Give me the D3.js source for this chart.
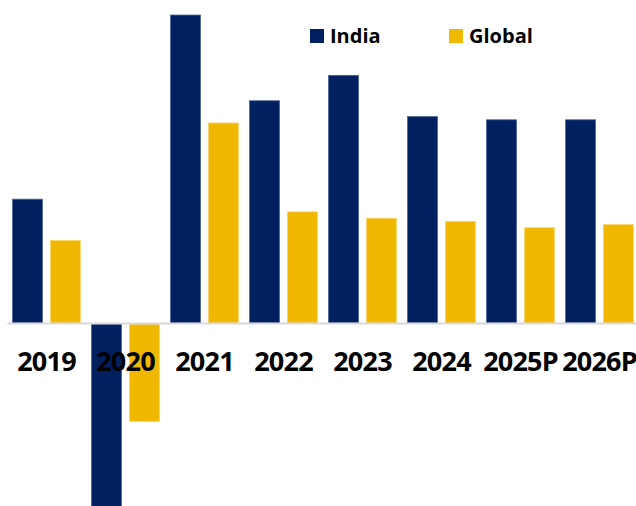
<!DOCTYPE html>
<html>
<head>
<meta charset="utf-8">
<script src="https://cdn.jsdelivr.net/npm/d3@7"></script>
<style>
  body { margin: 0; background: #fff; }
  svg { display: block; font-family: "Open Sans", sans-serif; }
</style>
</head>
<body>
<div id="CHART"></div>
<script>
// data (GDP growth, %)
var aYears = ["2019", "2020", "2021", "2022", "2023", "2024", "2025P", "2026P"];
var aSeries = ["India", "Global"];
var aIndia = [3.9, -5.8, 9.7, 7.0, 7.8, 6.5, 6.4, 6.4];
var aGlobal = [2.6, -3.1, 6.3, 3.5, 3.3, 3.2, 3.0, 3.1];

var oColors = { India: "#002060", Global: "#F0B800" };
var oStroke = { India: "#4d6699", Global: "#f7d66a" };

var iWidth = 636;
var iHeight = 506;

var svg = d3.select("#CHART").append("svg")
	.attr("width", iWidth)
	.attr("height", iHeight);

var xOuter = d3.scaleBand()
	.domain(aYears)
	.range([7, 639])
	.paddingInner(0.14)
	.paddingOuter(0.07);

var xInner = d3.scaleBand()
	.domain(aSeries)
	.range([0, xOuter.bandwidth()])
	.paddingInner(0.21);

var yAxes = d3.scaleLinear()
	.domain([-6, 10])
	.range([513.5, 5.5]);

var data = aYears.map(function(sYear, i) {
	return { year: sYear, India: aIndia[i], Global: aGlobal[i] };
});

var myGroups = svg.selectAll(".grp")
	.data(data)
	.enter().append("g")
		.attr("class", "grp")
		.attr("transform", function(d) { return "translate(" + xOuter(d.year) + ",0)"; });

myGroups.selectAll("rect")
	.data(function(d) { return aSeries.map(function(s) { return { key: s, value: d[s] }; }); })
	.enter().append("rect")
		.attr("x", function(d) { return xInner(d.key); })
		.attr("y", function(d) { return d.value >= 0 ? yAxes(d.value) : yAxes(0) + 1; })
		.attr("width", xInner.bandwidth())
		.attr("height", function(d) { return Math.abs(yAxes(d.value) - yAxes(0)) - (d.value >= 0 ? 0 : 1); })
		.attr("fill", function(d) { return oColors[d.key]; })
		.attr("stroke", function(d) { return oStroke[d.key]; })
		.attr("stroke-width", 0.8);

// category axis on the zero line
var gAxis = svg.append("g")
	.attr("transform", "translate(0," + yAxes(0) + ")")
	.call(d3.axisBottom(xOuter).tickSize(0).tickSizeOuter(0));

gAxis.select(".domain")
	.attr("stroke", "#d9d9d9")
	.attr("stroke-width", 2);

gAxis.selectAll("text")
	.attr("y", 48)
	.attr("dy", 0)
	.attr("fill", "#000")
	.style("font-family", "'Open Sans', sans-serif")
	.style("font-size", "27px")
	.style("font-weight", "bold")
	.style("letter-spacing", "-0.8px");

// legend
var aLegendX = [310, 449];
var myLegend = svg.selectAll(".leg")
	.data(aSeries)
	.enter().append("g")
		.attr("class", "leg")
		.attr("transform", function(d, i) { return "translate(" + aLegendX[i] + ",29)"; });

myLegend.append("rect")
	.attr("width", 14)
	.attr("height", 14)
	.attr("fill", function(d) { return oColors[d]; });

myLegend.append("text")
	.attr("x", 20)
	.attr("y", 14)
	.text(function(d) { return d; })
	.style("font-size", "20px")
	.style("font-weight", "bold")
	.style("fill", "#000");
</script>
</body>
</html>
